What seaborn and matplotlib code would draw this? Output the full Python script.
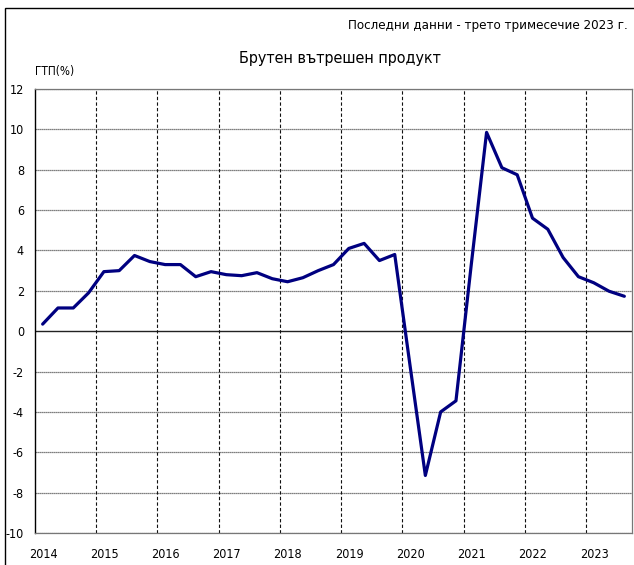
import matplotlib
matplotlib.use("Agg")
import matplotlib.pyplot as plt
import matplotlib.patches as mpatches
import seaborn as sns
import pandas as pd
import numpy as np

# ---- data ----
years = [2014, 2015, 2016, 2017, 2018, 2019, 2020, 2021, 2022, 2023]
quarters_per_year = 4
gdp_growth = [
    0.35, 1.15, 1.15, 1.9,
    2.95, 3.0, 3.75, 3.45,
    3.3, 3.3, 2.7, 2.95,
    2.8, 2.75, 2.9, 2.6,
    2.45, 2.65, 3.0, 3.3,
    4.1, 4.35, 3.5, 3.8,
    -1.7, -7.15, -4.0, -3.45,
    3.3, 9.85, 8.1, 7.75,
    5.6, 5.05, 3.65, 2.7,
    2.4, 1.98, 1.73,
]
y_ticks = [12, 10, 8, 6, 4, 2, 0, -2, -4, -6, -8, -10]
title = "Брутен вътрешен продукт"
note = "Последни данни - трето тримесечие 2023 г."
ylabel = "ГТП(%)"

# quarter mid-points in year units
xq = [years[0] + (i + 0.5) / quarters_per_year for i in range(len(gdp_growth))]
df = pd.DataFrame({"t": xq, "gdp": gdp_growth})

sns.set_style("white")
plt.rcParams["font.family"] = ["DejaVu Sans"]
plt.rcParams["font.stretch"] = "condensed"
plt.rcParams["text.color"] = "black"
plt.rcParams["xtick.color"] = "black"
plt.rcParams["ytick.color"] = "black"

W, H = 634, 565
fig = plt.figure(figsize=(W / 100, H / 100), dpi=100)
L, R, T, B = 35, 632, 89, 533
ax = fig.add_axes([L / W, 1 - B / H, (R - L) / W, (B - T) / H])

sns.lineplot(data=df, x="t", y="gdp", ax=ax, color="#000080", linewidth=2.3)

ax.set_xlim(years[0], years[-1] + 0.75)
ax.set_ylim(-10, 12)

ax.set_yticks(y_ticks)
ax.set_yticklabels([str(v) for v in y_ticks], fontsize=9)
ax.set_xticks(years[1:])
ax.set_xticklabels([])
ax.set_xticks([y + 0.13 for y in years], minor=True)
ax.set_xticklabels([str(y) for y in years], minor=True, fontsize=9)
ax.tick_params(axis="x", which="both", length=0, pad=11)
ax.tick_params(axis="y", length=5, width=0.8, color="black", pad=3, direction="out")

for v in y_ticks:
    if v == 0:
        ax.axhline(v, color="#222222", lw=1.0, zorder=1)
    else:
        ax.axhline(v, color="#555555", lw=0.9, ls=(0, (1, 0.6)), zorder=1)
for yv in years[1:]:
    ax.axvline(yv, color="#111111", lw=0.8, ls=(0, (3, 2)), zorder=1)

for s in ["top", "bottom", "right"]:
    ax.spines[s].set_color("#777777")
    ax.spines[s].set_linewidth(0.9)
ax.spines["left"].set_color("black")
ax.spines["left"].set_linewidth(1.0)

ax.set_xlabel("")
ax.set_ylabel("")

fig.text(340 / W, 1 - 58 / H, title, ha="center", va="center", fontsize=11.5)
fig.text(628 / W, 1 - 25 / H, note, ha="right", va="center", fontsize=9.5)
fig.text(35 / W, 1 - 72 / H, ylabel, ha="left", va="center", fontsize=8.5)

frame = mpatches.Rectangle((5 / W, -0.1), 1.2, 1 - 8 / H + 0.1,
                           transform=fig.transFigure, fill=False,
                           edgecolor="black", lw=1.0)
fig.patches.append(frame)

fig.savefig("out.png", dpi=100)
